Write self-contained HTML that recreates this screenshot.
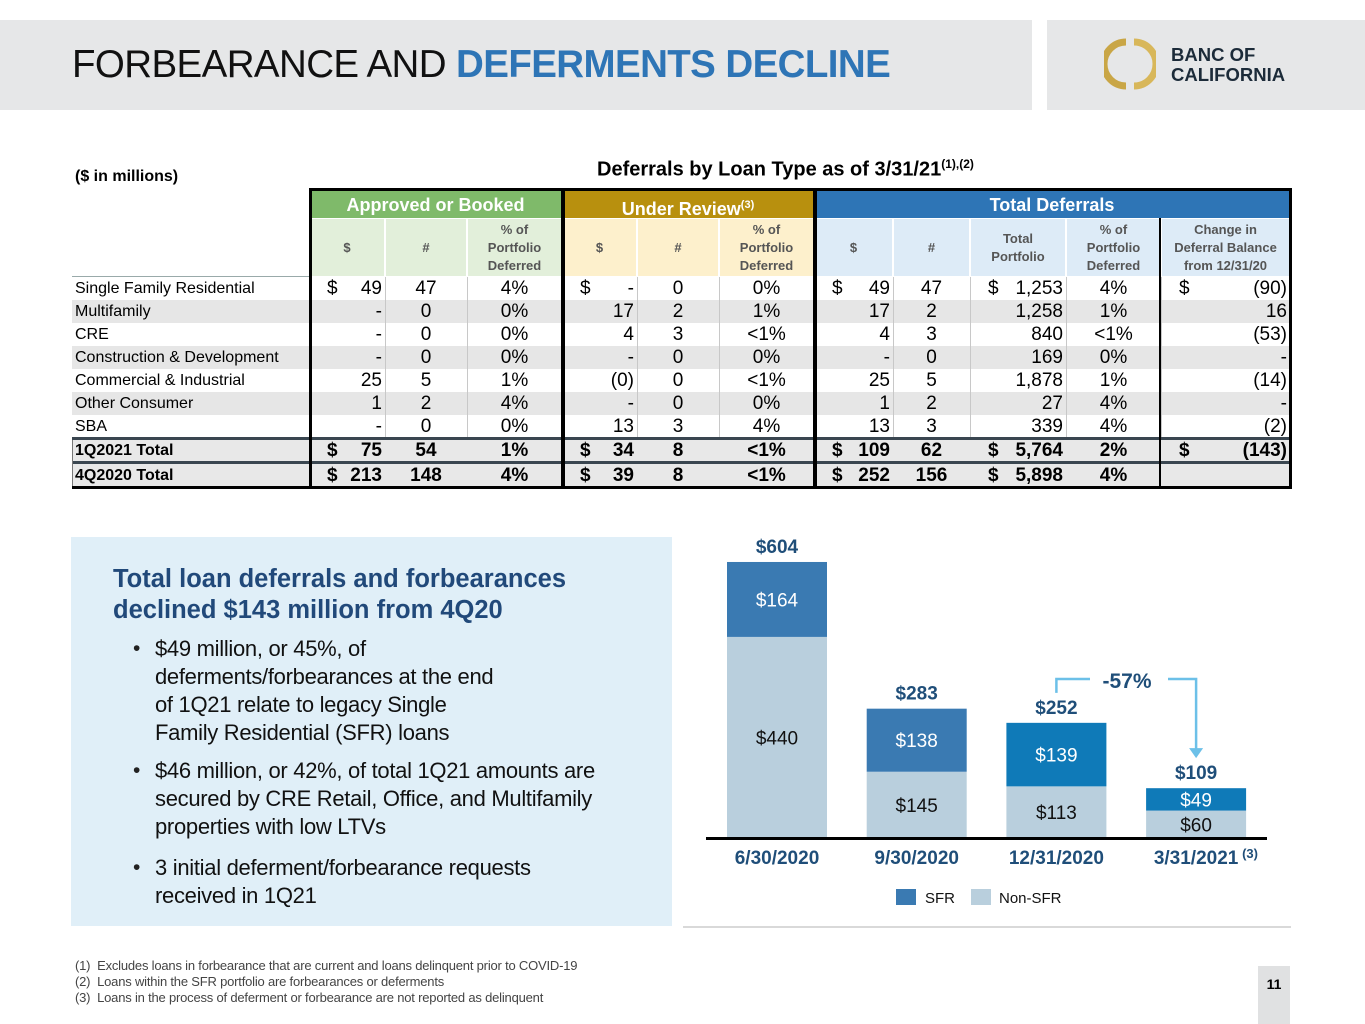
<!DOCTYPE html>
<html><head><meta charset="utf-8">
<style>
*{margin:0;padding:0;box-sizing:border-box}
body{width:1365px;height:1024px;position:relative;background:#fff;font-family:"Liberation Sans",Arial,sans-serif;overflow:hidden;color:#000}
.a{position:absolute}
.bl{position:absolute;left:20px;color:#222}
.bt{position:absolute;left:42px;font-size:22px;line-height:28px;color:#111;letter-spacing:-0.3px}
</style></head><body>
<div class="a" style="left:0;top:20px;width:1032px;height:90px;background:#e6e7e8"></div>
<div class="a" style="left:1047px;top:20px;width:318px;height:90px;background:#e6e7e8"></div>
<div class="a" style="left:72px;top:43px;font-size:38.5px;line-height:44px;letter-spacing:-0.6px;color:#111">FORBEARANCE AND <span style="color:#2e75b6;font-weight:bold">DEFERMENTS DECLINE</span></div>
<svg class="a" style="left:1104px;top:38px" width="52" height="52" viewBox="0 0 52 52">
<path d="M22 4 A22 22 0 0 0 22 48" fill="none" stroke="#c9a646" stroke-width="7"/>
<path d="M30 4 A22 22 0 0 1 30 48" fill="none" stroke="#d8b75a" stroke-width="7"/>
</svg>
<div class="a" style="left:1171px;top:45px;font-size:18.5px;line-height:20px;font-weight:bold;color:#1c2b39">BANC OF<br>CALIFORNIA</div>

<div class="a" style="left:75px;top:168px;font-size:16px;font-weight:bold">($ in millions)</div>
<div class="a" style="left:597px;top:157px;font-size:20px;font-weight:bold">Deferrals by Loan Type as of 3/31/21<sup style="font-size:12px">(1),(2)</sup></div>

<div id="tbl"></div>

<div class="a" style="left:71px;top:537px;width:601px;height:389px;background:#e0eff8">
<div class="a" style="left:42px;top:27px;font-size:25.5px;line-height:31px;font-weight:bold;color:#21497a;white-space:nowrap">Total loan deferrals and forbearances<br>declined $143 million from 4Q20</div>
<div class="a" style="left:42px;top:98px"><span class="bl" style="font-size:21px;line-height:28px">•</span><span class="bt" style="white-space:nowrap">$49 million, or 45%, of<br>deferments/forbearances at the end<br>of 1Q21 relate to legacy Single<br>Family Residential (SFR) loans</span></div>
<div class="a" style="left:42px;top:220px"><span class="bl" style="font-size:21px;line-height:28px">•</span><span class="bt" style="white-space:nowrap">$46 million, or 42%, of total 1Q21 amounts are<br>secured by CRE Retail, Office, and Multifamily<br>properties with low LTVs</span></div>
<div class="a" style="left:42px;top:317px"><span class="bl" style="font-size:21px;line-height:28px">•</span><span class="bt" style="white-space:nowrap">3 initial deferment/forbearance requests<br>received in 1Q21</span></div>
</div>

<svg class="a" id="chart" style="left:0;top:0" width="1365" height="1024"></svg>
<div class="a" style="left:683px;top:926px;width:608px;height:2px;background:#d9d9d9"></div>

<div class="a" style="left:75px;top:958px;font-size:13px;line-height:16px;color:#444;letter-spacing:-0.2px">(1)&nbsp; Excludes loans in forbearance that are current and loans delinquent prior to COVID-19<br>(2)&nbsp; Loans within the SFR portfolio are forbearances or deferments<br>(3)&nbsp; Loans in the process of deferment or forbearance are not reported as delinquent</div>
<div class="a" style="left:1258px;top:966px;width:32px;height:58px;background:#e0e1e2;font-size:14px;font-weight:bold;text-align:center;padding-top:10px">11</div>

<script>
// ---------- TABLE ----------
const colX=[72,309,385,467,562,637,719,814,893,970,1066,1161,1290];
const rowLabels=["Single Family Residential","Multifamily","CRE","Construction & Development","Commercial & Industrial","Other Consumer","SBA","1Q2021 Total","4Q2020 Total"];
const rowValues=[
["$|49","47","4%","$|-","0","0%","$|49","47","$|1,253","4%","$|(90)"],
["-","0","0%","17","2","1%","17","2","1,258","1%","16"],
["-","0","0%","4","3","<1%","4","3","840","<1%","(53)"],
["-","0","0%","-","0","0%","-","0","169","0%","-"],
["25","5","1%","(0)","0","<1%","25","5","1,878","1%","(14)"],
["1","2","4%","-","0","0%","1","2","27","4%","-"],
["-","0","0%","13","3","4%","13","3","339","4%","(2)"],
["$|75","54","1%","$|34","8","<1%","$|109","62","$|5,764","2%","$|(143)"],
["$|213","148","4%","$|39","8","<1%","$|252","156","$|5,898","4%",""]];
const colAlign=["r","c","c","r","c","c","r","c","r","c","r"];
const rowTop=[277,300,323,346,369,392,415,439,464];
const tbl=document.getElementById('tbl');
function box(x,y,w,h,st){const d=document.createElement('div');d.className='a';d.style.cssText=`left:${x}px;top:${y}px;width:${w}px;height:${h}px;`+st;tbl.appendChild(d);return d;}
const groups=[["Approved or Booked",1,4,"#7fba6a","#e2efda"],["Under Review<sup style='font-size:11px'>(3)</sup>",4,7,"#b8900e","#fdf0cc"],["Total Deferrals",7,12,"#2e75b6","#ddebf7"]];
groups.forEach((g,gi)=>{
 const h=box(colX[g[1]],190,colX[g[2]]-colX[g[1]],28,`background:${g[3]};color:#fff;font-weight:bold;font-size:18px;text-align:center;line-height:30px;`);
 h.innerHTML=g[0];
 
 
 for(let c=g[1];c<g[2];c++){
  const s=box(colX[c]+1,219,colX[c+1]-colX[c]-2,57,`background:${g[4]};color:#555;font-weight:bold;font-size:13px;line-height:18px;text-align:center;display:flex;align-items:center;justify-content:center;`);
  const t=["$","#","% of<br>Portfolio<br>Deferred","$","#","% of<br>Portfolio<br>Deferred","$","#","Total<br>Portfolio","% of<br>Portfolio<br>Deferred","Change in<br>Deferral Balance<br>from 12/31/20"][c-1];
  s.innerHTML=t;
  
  
 }
});
rowLabels.forEach((lab,r)=>{
 const y=rowTop[r],h=23;
 const bg=(r%2==1&&r<7)?"#e6e6e6":(r>=7?"#e8e8e8":"#fff");
 const row=box(72,y,1218,h,`background:${bg};`);
 
 
 const L=box(75,y,230,h,`font-size:16px;line-height:23px;white-space:nowrap;${r>=7?'font-weight:bold;':''}`);
 L.textContent=lab;
 
 
 rowValues[r].forEach((v,c)=>{
  const x0=colX[c+1],x1=colX[c+2];
  if(r<7&&c>0){box(x0,y,1,h,'background:#c8c8c8;');}
  let dollar=false,val=v;
  if(v.indexOf('|')>=0){dollar=true;val=v.split('|')[1];}
  const cell=box(x0,y,x1-x0,h,`font-size:19px;line-height:23px;font-family:'Liberation Sans Narrow','Liberation Sans',sans-serif;${r>=7?'font-weight:bold;':''}`);
  
  
  if(dollar){const d=document.createElement('span');d.className='a';d.style.left='18px';d.textContent='$';cell.appendChild(d);}
  const s=document.createElement('span');s.className='a';
  if(colAlign[c]=='r'){s.style.right='3px';}else{s.style.left='0';s.style.width='100%';s.style.textAlign='center';}
  s.textContent=val;cell.appendChild(s);
 });
});
box(72,276,237,1,'background:#9aa;');
box(72,437,1218,3,'background:#3a4650;');
box(72,461,1218,3,'background:#3a4650;');
box(72,486,1218,3,'background:#000;');
box(72,440,1,46,'background:#777;');
[[309,562],[562,814],[814,1290]].forEach(p=>{box(p[0],188,p[1]-p[0]+2,301,'border:3px solid #000;');});
box(1159,218,2,270,'background:#000;');

// ---------- CHART ----------
const categories=["6/30/2020","9/30/2020","12/31/2020","3/31/2021"];
const sfrValues=[164,138,139,49];
const nonSfrValues=[440,145,113,60];
const totalLabels=["$604","$283","$252","$109"];
const svg=document.getElementById('chart');
const NS='http://www.w3.org/2000/svg';
const baseY=838,scale=0.457,x0=727,step=139.7,bw=100;
function yS(v){return baseY-v*scale;}
function xS(i){return x0+i*step;}
function el(tag,attrs,txt){const e=document.createElementNS(NS,tag);for(const k in attrs)e.setAttribute(k,attrs[k]);if(txt!=null)e.textContent=txt;svg.appendChild(e);return e;}
const sfrColors=["#3a7ab2","#3a7ab2","#0f7ab8","#0f7ab8"];
categories.forEach((c,i)=>{
 const x=xS(i),n=nonSfrValues[i],s=sfrValues[i];
 const r1=el('rect',{x:x,y:yS(n),width:bw,height:n*scale,fill:'#b9cfdd'});
 
 
 const r2=el('rect',{x:x,y:yS(n+s),width:bw,height:s*scale,fill:sfrColors[i]});
 
 
 const cx=x+bw/2;
 const t1=el('text',{x:cx,y:(yS(n)+baseY)/2+7,'text-anchor':'middle','font-size':19,fill:'#111','font-family':'Liberation Sans Narrow, Liberation Sans, sans-serif'},'$'+n);
 
 
 const t2=el('text',{x:cx,y:(yS(n)+yS(n+s))/2+7,'text-anchor':'middle','font-size':19,fill:'#fff','font-family':'Liberation Sans Narrow, Liberation Sans, sans-serif'},'$'+s);
 
 
 const t3=el('text',{x:cx,y:yS(n+s)-9,'text-anchor':'middle','font-size':19,'font-weight':'bold',fill:'#1f4e79','font-family':'Liberation Sans Narrow, Liberation Sans, sans-serif'},totalLabels[i]);
 
 
 const t4=el('text',{x:cx,y:864,'text-anchor':'middle','font-size':19,'font-weight':'bold',fill:'#1f4e79','font-family':'Liberation Sans Narrow, Liberation Sans, sans-serif'},c);
 
 
});
const fn=el('text',{x:xS(3)+bw/2+46,y:858,'font-size':13,'font-weight':'bold',fill:'#1f4e79'},'(3)');


const ax=el('rect',{x:706,y:837,width:561,height:3,fill:'#000'});


const cx2=xS(2)+bw/2,cx3=xS(3)+bw/2;
const ar=el('path',{d:`M${cx2} ${yS(252)-30} V679 H1090 M1168 679 H${cx3} V${yS(109)-38}`,fill:'none',stroke:'#6cc0e8','stroke-width':2.5});


const ah=el('path',{d:`M${cx3-7} ${yS(109)-40} L${cx3+7} ${yS(109)-40} L${cx3} ${yS(109)-30} Z`,fill:'#6cc0e8'});


const pc=el('text',{x:1127,y:688,'text-anchor':'middle','font-size':21,'font-weight':'bold',fill:'#1f4e79'},'-57%');


const lg1=el('rect',{x:896,y:889,width:20,height:16,fill:'#3a7ab2'});


const lt1=el('text',{x:925,y:903,'font-size':15,fill:'#111'},'SFR');


const lg2=el('rect',{x:971,y:889,width:20,height:16,fill:'#b9cfdd'});


const lt2=el('text',{x:999,y:903,'font-size':15,fill:'#111'},'Non-SFR');


</script>
</body></html>
